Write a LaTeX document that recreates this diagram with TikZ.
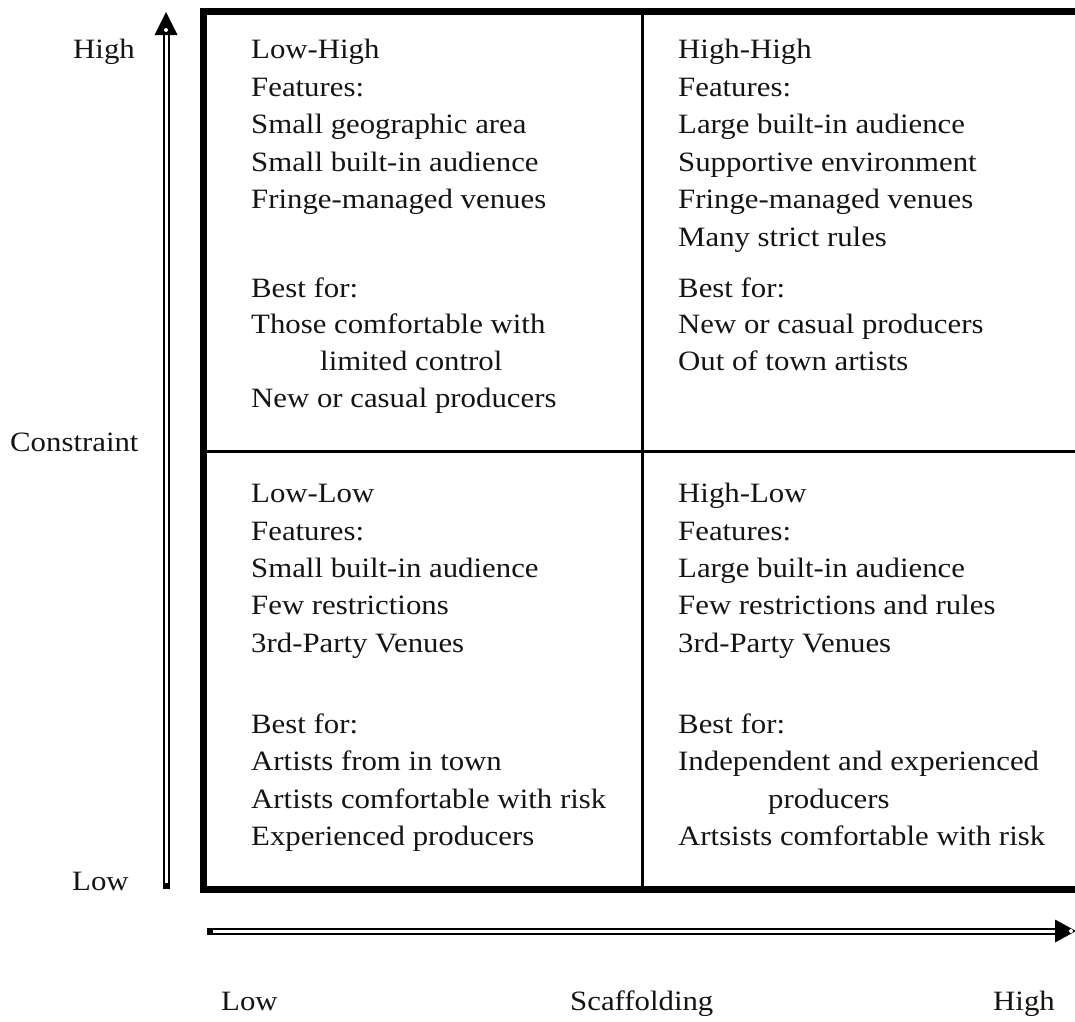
\documentclass[tikz,border=0pt]{standalone}
\usepackage{fontspec}
\setmainfont{Liberation Serif}[FakeStretch=1.1]
\begin{document}
\begin{tikzpicture}[x=1pt,y=-1pt,
  txt/.style={anchor=base west, inner sep=0pt, text=black!92, font=\fontsize{28}{37}\selectfont},
  txte/.style={txt, anchor=base east},
  frame/.style={line width=7pt, line join=miter},
  divider/.style={line width=3pt},
  shaft/.style={line width=2pt, double=white, double distance=3pt}]
\useasboundingbox (0,0) rectangle (1075,1021);

% frame and dividers
\draw[frame] (1075,11.5) -- (203,11.5) -- (203,889) -- (1075,889);
\coordinate (dt) at (642,11.5); \coordinate (db) at (642,889);
\coordinate (dl) at (203,451); \coordinate (dr) at (1075,451);
\draw[divider] (dt) -- (db);
\draw[divider] (dl) -- (dr);

% vertical axis arrow
\coordinate (vb) at (166,885); \coordinate (vh) at (166,33); \coordinate (vt) at (166,12);
\draw[shaft] (vb) -- (vh);
\fill (162.5,883) rectangle (169.5,889);
\fill (vt) -- (154.5,35) -- (177.5,35) -- cycle;
\fill[white] (166,30) circle (2);

% horizontal axis arrow
\coordinate (hb) at (211,931); \coordinate (hh) at (1057,931); \coordinate (ht) at (1076,931);
\draw[shaft] (hb) -- (hh);
\fill (207,927.5) rectangle (213,934.5);
\fill (ht) -- (1055,919.5) -- (1055,942.5) -- cycle;
\fill[white] (1071,931) circle (2);

% axis labels
\node[txte] (yhigh) at (135,58) {High};
\node[txt] (ylab) at (10,451) {Constraint};
\node[txt] (ylow) at (72,890) {Low};
\node[txt] (xlow) at (221,1010) {Low};
\node[txt] (xlab) at (570,1010) {Scaffolding};
\node[txte] (xhigh) at (1055,1010) {High};

% Low-High quadrant
\node[txt] (lh1) at (251,58) {Low-High};
\node[txt] (lh2) at (251,96) {Features:};
\node[txt] (lh3) at (251,133) {Small geographic area};
\node[txt] (lh4) at (251,171) {Small built-in audience};
\node[txt] (lh5) at (251,208) {Fringe-managed venues};
\node[txt] (lh6) at (251,297) {Best for:};
\node[txt] (lh7) at (251,333) {Those comfortable with};
\node[txt] (lh8) at (320,370) {limited control};
\node[txt] (lh9) at (251,407) {New or casual producers};

% High-High quadrant
\node[txt] (hh1) at (678,58) {High-High};
\node[txt] (hh2) at (678,96) {Features:};
\node[txt] (hh3) at (678,133) {Large built-in audience};
\node[txt] (hh4) at (678,171) {Supportive environment};
\node[txt] (hh5) at (678,208) {Fringe-managed venues};
\node[txt] (hh6) at (678,246) {Many strict rules};
\node[txt] (hh7) at (678,297) {Best for:};
\node[txt] (hh8) at (678,333) {New or casual producers};
\node[txt] (hh9) at (678,370) {Out of town artists};

% Low-Low quadrant
\node[txt] (ll1) at (251,502) {Low-Low};
\node[txt] (ll2) at (251,540) {Features:};
\node[txt] (ll3) at (251,577) {Small built-in audience};
\node[txt] (ll4) at (251,614) {Few restrictions};
\node[txt] (ll5) at (251,652) {3rd-Party Venues};
\node[txt] (ll6) at (251,733) {Best for:};
\node[txt] (ll7) at (251,770) {Artists from in town};
\node[txt] (ll8) at (251,808) {Artists comfortable with risk};
\node[txt] (ll9) at (251,845) {Experienced producers};

% High-Low quadrant
\node[txt] (hl1) at (678,502) {High-Low};
\node[txt] (hl2) at (678,540) {Features:};
\node[txt] (hl3) at (678,577) {Large built-in audience};
\node[txt] (hl4) at (678,614) {Few restrictions and rules};
\node[txt] (hl5) at (678,652) {3rd-Party Venues};
\node[txt] (hl6) at (678,733) {Best for:};
\node[txt] (hl7) at (678,770) {Independent and experienced};
\node[txt] (hl8) at (768,808) {producers};
\node[txt] (hl9) at (678,845) {Artsists comfortable with risk};
\end{tikzpicture}
\end{document}
